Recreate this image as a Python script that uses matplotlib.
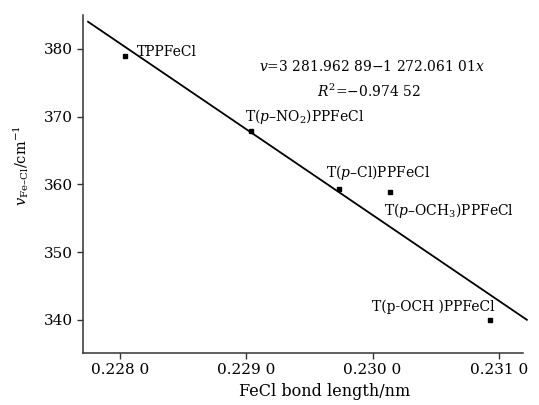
import numpy as np
import matplotlib
matplotlib.use("Agg")
import matplotlib.pyplot as plt

plt.rcParams['font.family'] = 'DejaVu Serif'
plt.rcParams['mathtext.fontset'] = 'dejavuserif'

# data
bond_len = [0.22804, 0.22904, 0.229736, 0.230135, 0.230932]
freq = [379.0, 367.8, 359.3, 358.8, 340.0]
names = ['TPPFeCl', r'T($p$–NO$_2$)PPFeCl', r'T($p$–Cl)PPFeCl',
         r'T($p$–OCH$_3$)PPFeCl', 'T(p-OCH )PPFeCl']
# label offsets in pixels and alignment
offs = [(12, 4), (-6, 15), (-13, 17), (-6, -18), (4, 13)]
aligns = ['left', 'left', 'left', 'left', 'right']

fit_x = [0.227747, 0.231222]
fit_y = [384.0, 340.0]

xticks = [0.228, 0.229, 0.230, 0.231]
xticklabels = ['0.228 0', '0.229 0', '0.230 0', '0.231 0']
yticks = [340, 350, 360, 370, 380]

fig = plt.figure(figsize=(5.39, 4.05), dpi=100)
ax = fig.add_axes([0.154, 0.1284, 0.816, 0.8346])

ax.plot(fit_x, fit_y, color='black', lw=1.3, clip_on=False)
ax.plot(bond_len, freq, 's', color='black', ms=3.5)

for x, y, n, o, ha in zip(bond_len, freq, names, offs, aligns):
    ax.annotate(n, (x, y), xytext=o, textcoords='offset pixels',
                ha=ha, va='center', fontsize=10)

ax.text(0.657, 0.847, r'$v$=3 281.962 89−1 272.061 01$x$', transform=ax.transAxes,
        ha='center', va='center', fontsize=10)
ax.text(0.65, 0.773, r'$R^2$=−0.974 52', transform=ax.transAxes,
        ha='center', va='center', fontsize=10)

ax.set_xlim(0.227707, 0.23119)
ax.set_ylim(335.1, 385.0)
ax.set_xticks(xticks)
ax.set_xticklabels(xticklabels)
ax.set_yticks(yticks)

for s in ['top', 'right']:
    ax.spines[s].set_visible(False)
for s in ['left', 'bottom']:
    ax.spines[s].set_color('#333333')
    ax.spines[s].set_linewidth(1.1)
ax.tick_params(colors='#333333', labelcolor='black', labelsize=11, length=4, width=1)

ax.set_xlabel('FeCl bond length/nm', fontsize=11.5)
ax.xaxis.set_label_coords(0.55, -0.088)
ax.set_ylabel(r'$v_{\mathrm{Fe–Cl}}$/cm$^{-1}$', fontsize=10.5)
ax.yaxis.set_label_coords(-0.118, 0.556)

fig.savefig('out.png', dpi=100)
